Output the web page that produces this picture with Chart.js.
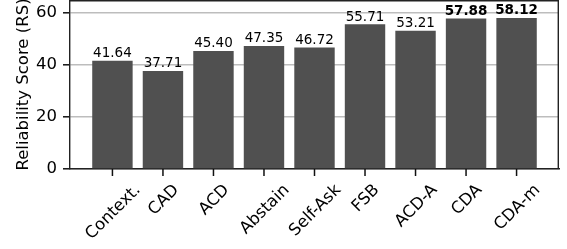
<!DOCTYPE html>
<html><head><meta charset="utf-8">
<script src="https://cdn.jsdelivr.net/npm/chart.js@4/dist/chart.umd.min.js"></script>
<style>html,body{margin:0;padding:0;background:#fff;overflow:hidden}canvas{display:block}</style>
</head><body>
<canvas id="c" width="567" height="249"></canvas>
<script>
const categories = ['Context.', 'CAD', 'ACD', 'Abstain', 'Self-Ask', 'FSB', 'ACD-A', 'CDA', 'CDA-m'];
const scores = [41.64, 37.71, 45.40, 47.35, 46.72, 55.71, 53.21, 57.88, 58.12];
const boldLabels = [false, false, false, false, false, false, false, true, true];
const yTicks = [0, 20, 40, 60];
const yTitle = 'Reliability Score (RS)';

const FONT = "'DejaVu Sans', sans-serif";
const AXIS_SIZE = 16.5;
const VALUE_SIZE = 13.5;
const SPINE = '#222';
const SPINE_W = 1.4;
const TICK_LEN = 7;

const framePlugin = {
  id: 'frame',
  afterDraw(chart) {
    const {ctx, chartArea: a} = chart;
    const xs = chart.scales.x;
    ctx.save();
    ctx.strokeStyle = SPINE;
    ctx.lineWidth = SPINE_W;
    ctx.beginPath();
    ctx.moveTo(a.left, a.top + 0.7);
    ctx.lineTo(a.right - 0.7, a.top + 0.7);
    ctx.lineTo(a.right - 0.7, a.bottom);
    ctx.stroke();
    // x tick marks
    ctx.strokeStyle = '#111';
    ctx.lineWidth = 1.5;
    ctx.beginPath();
    categories.forEach((_, i) => {
      const px = xs.getPixelForValue(i);
      ctx.moveTo(px, a.bottom);
      ctx.lineTo(px, a.bottom + TICK_LEN);
    });
    ctx.stroke();
    ctx.restore();
  }
};

const valueLabels = {
  id: 'valueLabels',
  afterDatasetsDraw(chart) {
    const {ctx} = chart;
    const meta = chart.getDatasetMeta(0);
    ctx.save();
    ctx.fillStyle = '#000';
    ctx.textAlign = 'center';
    ctx.textBaseline = 'alphabetic';
    meta.data.forEach((bar, i) => {
      ctx.font = (boldLabels[i] ? 'bold ' : '') + VALUE_SIZE + 'px ' + FONT;
      ctx.fillText(scores[i].toFixed(2), bar.x, bar.y - 3.5);
    });
    ctx.restore();
  }
};

const axisText = {
  id: 'axisText',
  afterDraw(chart) {
    const {ctx, chartArea: a} = chart;
    const xs = chart.scales.x;
    ctx.save();
    ctx.fillStyle = '#000';
    ctx.font = AXIS_SIZE + 'px ' + FONT;
    ctx.textAlign = 'center';
    ctx.textBaseline = 'alphabetic';
    categories.forEach((lab, i) => {
      const px = xs.getPixelForValue(i);
      const m = ctx.measureText(lab);
      const asc = m.fontBoundingBoxAscent || AXIS_SIZE * 0.928;
      const desc = m.fontBoundingBoxDescent || AXIS_SIZE * 0.236;
      const diag = (m.width + asc + desc) * Math.SQRT1_2;
      const cy = a.bottom + 6 + 5 + diag / 2;
      ctx.save();
      ctx.translate(px, cy);
      ctx.rotate(-Math.PI / 4);
      ctx.fillText(lab, 0, (asc - desc) / 2);
      ctx.restore();
    });
    ctx.save();
    ctx.translate(28.3, (a.top + a.bottom) / 2);
    ctx.rotate(-Math.PI / 2);
    ctx.fillText(yTitle, 0, 0);
    ctx.restore();
    ctx.restore();
  }
};

new Chart(document.getElementById('c'), {
  type: 'bar',
  data: {
    datasets: [{
      data: categories.map((c, i) => ({x: i, y: scores[i]})),
      backgroundColor: '#505050',
      borderWidth: 0,
      barPercentage: 0.8,
      categoryPercentage: 1
    }]
  },
  options: {
    responsive: false,
    animation: false,
    devicePixelRatio: 1,
    layout: {padding: {left: 0, right: 8, top: 0, bottom: 0}},
    plugins: {legend: {display: false}, tooltip: {enabled: false}},
    scales: {
      x: {
        type: 'linear', min: -0.84, max: 8.84, offset: false,
        afterBuildTicks: s => { s.ticks = categories.map((_, i) => ({value: i})); },
        afterFit: s => { s.height = 80; s.paddingLeft = 0; s.paddingRight = 0; },
        ticks: {display: false},
        grid: {display: false},
        border: {display: true, color: SPINE, width: SPINE_W}
      },
      y: {
        min: 0, max: 65,
        afterBuildTicks: s => { s.ticks = yTicks.map(v => ({value: v})); },
        afterFit: s => { s.width = 70; s.paddingTop = 0; s.paddingBottom = 0; },
        ticks: {font: {family: FONT, size: AXIS_SIZE}, color: '#000', padding: 6},
        grid: {color: '#bdbdbd', lineWidth: 1.6, drawTicks: true, tickLength: TICK_LEN, tickColor: '#111', tickWidth: 1.5},
        border: {display: true, color: SPINE, width: SPINE_W}
      }
    }
  },
  plugins: [framePlugin, valueLabels, axisText]
});
</script>
</body></html>
